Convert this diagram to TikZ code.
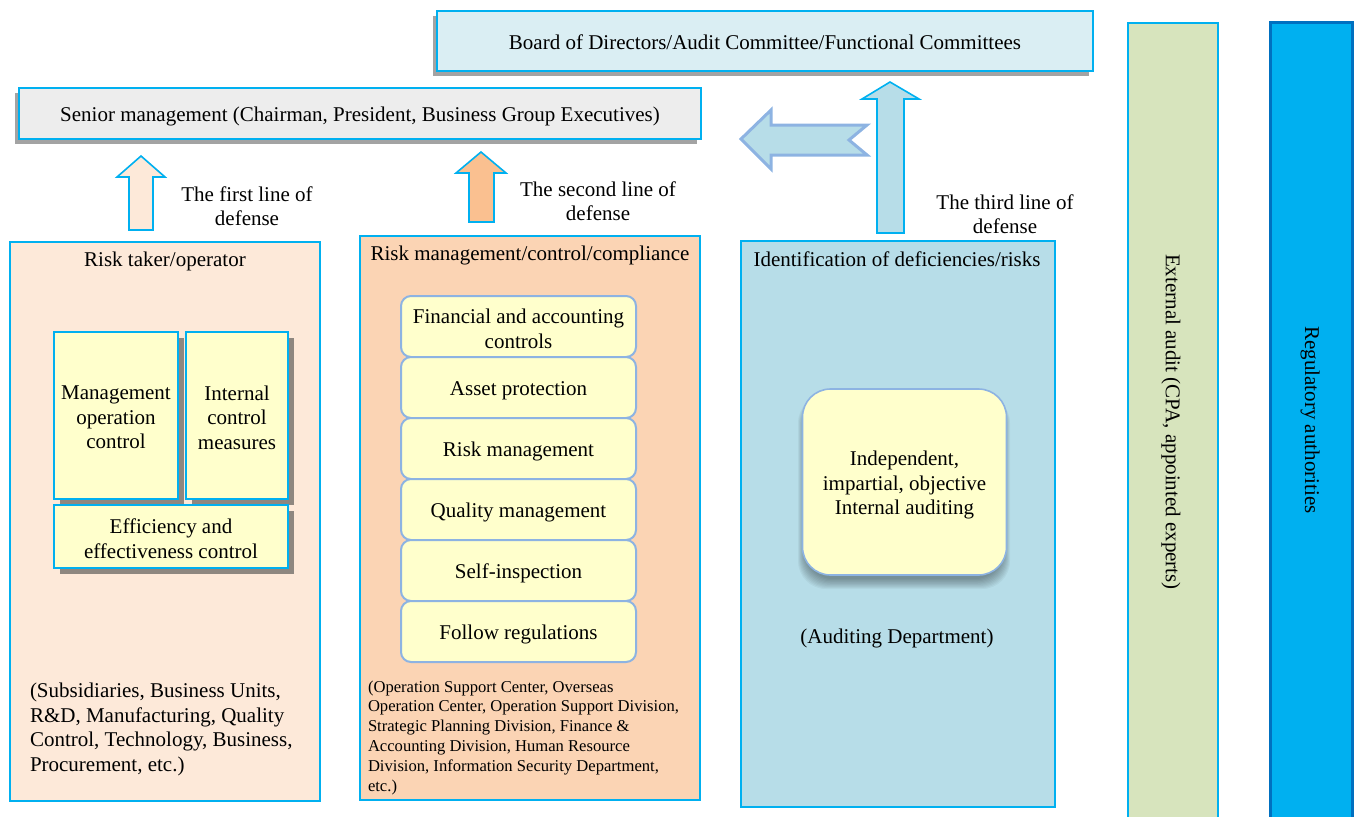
\documentclass[tikz,border=0pt]{standalone}
\usepackage{fontspec}
\setmainfont{Liberation Serif}
\usetikzlibrary{shadows}

\definecolor{lineblue}{HTML}{00B0F0}
\definecolor{softblue}{HTML}{8DB3E2}
\definecolor{deepblue}{HTML}{0070C0}
\definecolor{boardfill}{HTML}{DAEEF3}
\definecolor{seniorfill}{HTML}{EDEDED}
\definecolor{peachlight}{HTML}{FDE9D9}
\definecolor{peach}{HTML}{FBD4B4}
\definecolor{orangearrow}{HTML}{FAC090}
\definecolor{auditblue}{HTML}{B7DDE8}
\definecolor{paleyellow}{HTML}{FFFFCC}
\definecolor{olivepale}{HTML}{D7E4BD}
\definecolor{greyshadow}{HTML}{A3A3A3}
\definecolor{taupeshadow}{HTML}{8E8780}

\begin{document}
\begin{tikzpicture}[x=1pt,y=-1pt,
  font=\fontsize{21}{24.5}\selectfont,
  every node/.style={inner sep=0pt, outer sep=0pt, align=center, text=black},
  panel/.style={draw=lineblue, line width=2pt},
  topshadow/.style={drop shadow={shadow xshift=-4pt,shadow yshift=-5pt,fill=greyshadow,opacity=1}},
  cardshadow/.style={drop shadow={shadow xshift=6pt,shadow yshift=-6pt,fill=taupeshadow,opacity=1}},
  card/.style={panel, fill=paleyellow, cardshadow},
  item/.style={draw=softblue, line width=2pt, fill=paleyellow, rounded corners=10pt,
    minimum width=235pt, minimum height=61pt},
  blockarrow/.style={draw=lineblue, line width=1.6pt, line join=miter},
  smalltext/.style={font=\fontsize{16.6}{19.8}\selectfont, align=left}
]
\useasboundingbox (0,0) rectangle (1359,816);

% governing bodies
\node[panel, fill=boardfill, topshadow, minimum width=656pt, minimum height=60pt]
  (board) at (765,41) {};
\node (boardtext) at ([yshift=-1pt]board.center)
  {Board of Directors/Audit Committee/Functional Committees};
\node[panel, fill=seniorfill, topshadow, minimum width=682pt, minimum height=51pt]
  (senior) at (360,113.5) {};
\node (seniortext) at ([yshift=-2.5pt]senior.center)
  {Senior management (Chairman, President, Business Group Executives)};

% external columns
\node[panel, fill=olivepale, minimum width=90pt, minimum height=807pt] (external) at (1173,426.5) {};
\node[rotate=-90] (externaltext) at (1171,422) {External audit (CPA, appointed experts)};
\node[draw=deepblue, line width=3pt, fill=lineblue, minimum width=82pt, minimum height=807pt]
  (regulator) at (1311,426.5) {};
\node[rotate=-90] (regulatortext) at (1310,420) {Regulatory authorities};

% first line of defense
\node[panel, fill=peachlight, minimum width=310pt, minimum height=559pt] (first) at (165,521.5) {};
\node (firsttitle) at (165,261) {Risk taker/operator};
\node[card, minimum width=124pt, minimum height=167pt] (mgmt) at (116,415.5) {};
\node (mgmttext) at ([yshift=-2pt]mgmt.center) {Management\\operation\\control};
\node[card, minimum width=102pt, minimum height=167pt] (internal) at (237,415.5) {};
\node (internaltext) at ([yshift=-2pt]internal.center) {Internal\\control\\measures};
\node[card, minimum width=234pt, minimum height=63pt] (efficiency) at (171,536.5) {};
\node (efficiencytext) at ([yshift=-2pt]efficiency.center) {Efficiency and\\effectiveness control};
\node[anchor=west, align=left] (firstunits) at (30,729.5)
  {(Subsidiaries, Business Units,\\R\&D, Manufacturing, Quality\\Control, Technology, Business,\\Procurement, etc.)};

% second line of defense
\node[panel, fill=peach, minimum width=340pt, minimum height=564pt] (second) at (530,518) {};
\node (secondtitle) at (530,255) {Risk management/control/compliance};
\node[item] (fin) at (518.5,326.5) {};
\node[item] (asset) at (518.5,387.5) {};
\node[item] (riskm) at (518.5,448.5) {};
\node[item] (quality) at (518.5,509.5) {};
\node[item] (selfins) at (518.5,570.5) {};
\node[item] (follow) at (518.5,631.5) {};
\node at ([yshift=-2.5pt]fin.center) {Financial and accounting\\controls};
\node at ([yshift=-3pt]asset.center) {Asset protection};
\node at ([yshift=-3pt]riskm.center) {Risk management};
\node at ([yshift=-3pt]quality.center) {Quality management};
\node at ([yshift=-3pt]selfins.center) {Self-inspection};
\node at ([yshift=-3pt]follow.center) {Follow regulations};
\node[smalltext, anchor=west] (secondunits) at (368,737.5)
  {(Operation Support Center, Overseas\\Operation Center, Operation Support Division,\\Strategic Planning Division, Finance \&\\Accounting Division, Human Resource\\Division, Information Security Department,\\etc.)};

% third line of defense
\node[panel, fill=auditblue, minimum width=314pt, minimum height=566pt] (third) at (898,524) {};
\node (thirdtitle) at (897,259) {Identification of deficiencies/risks};
\foreach \k in {1,...,10}
  \fill[black, opacity=0.04, rounded corners=28pt]
    (806-0.8*\k,398-0.3*\k) rectangle (1002+0.8*\k,578+1.1*\k);
\node[draw=softblue, line width=1.6pt, fill=paleyellow, rounded corners=28pt,
  minimum width=204pt, minimum height=186pt] (independent) at (904.5,482) {};
\node (independenttext) at ([yshift=-3pt]independent.center)
  {Independent,\\impartial, objective\\Internal auditing};
\node (auditdept) at (897,638) {(Auditing Department)};

% block arrows
\draw[blockarrow, fill=peachlight] (141,156) -- (165,177) -- (153,177) -- (153,230)
  -- (129,230) -- (129,177) -- (117,177) -- cycle;
\node (firstlabel) at (247,206) {The first line of\\defense};

\draw[blockarrow, fill=orangearrow] (481,152) -- (506,173) -- (494,173) -- (494,222)
  -- (469,222) -- (469,173) -- (456,173) -- cycle;
\node (secondlabel) at (598,201) {The second line of\\defense};

\draw[blockarrow, fill=auditblue] (890,82) -- (919,99) -- (904,99) -- (904,233)
  -- (877,233) -- (877,99) -- (862,99) -- cycle;
\node (thirdlabel) at (1005,214) {The third line of\\defense};

\draw[draw=softblue, line width=3pt, line join=miter, fill=auditblue]
  (741,139) -- (771,110) -- (771,125) -- (867,125) -- (849,140) -- (867,155)
  -- (771,155) -- (771,169) -- cycle;
\end{tikzpicture}
\end{document}
